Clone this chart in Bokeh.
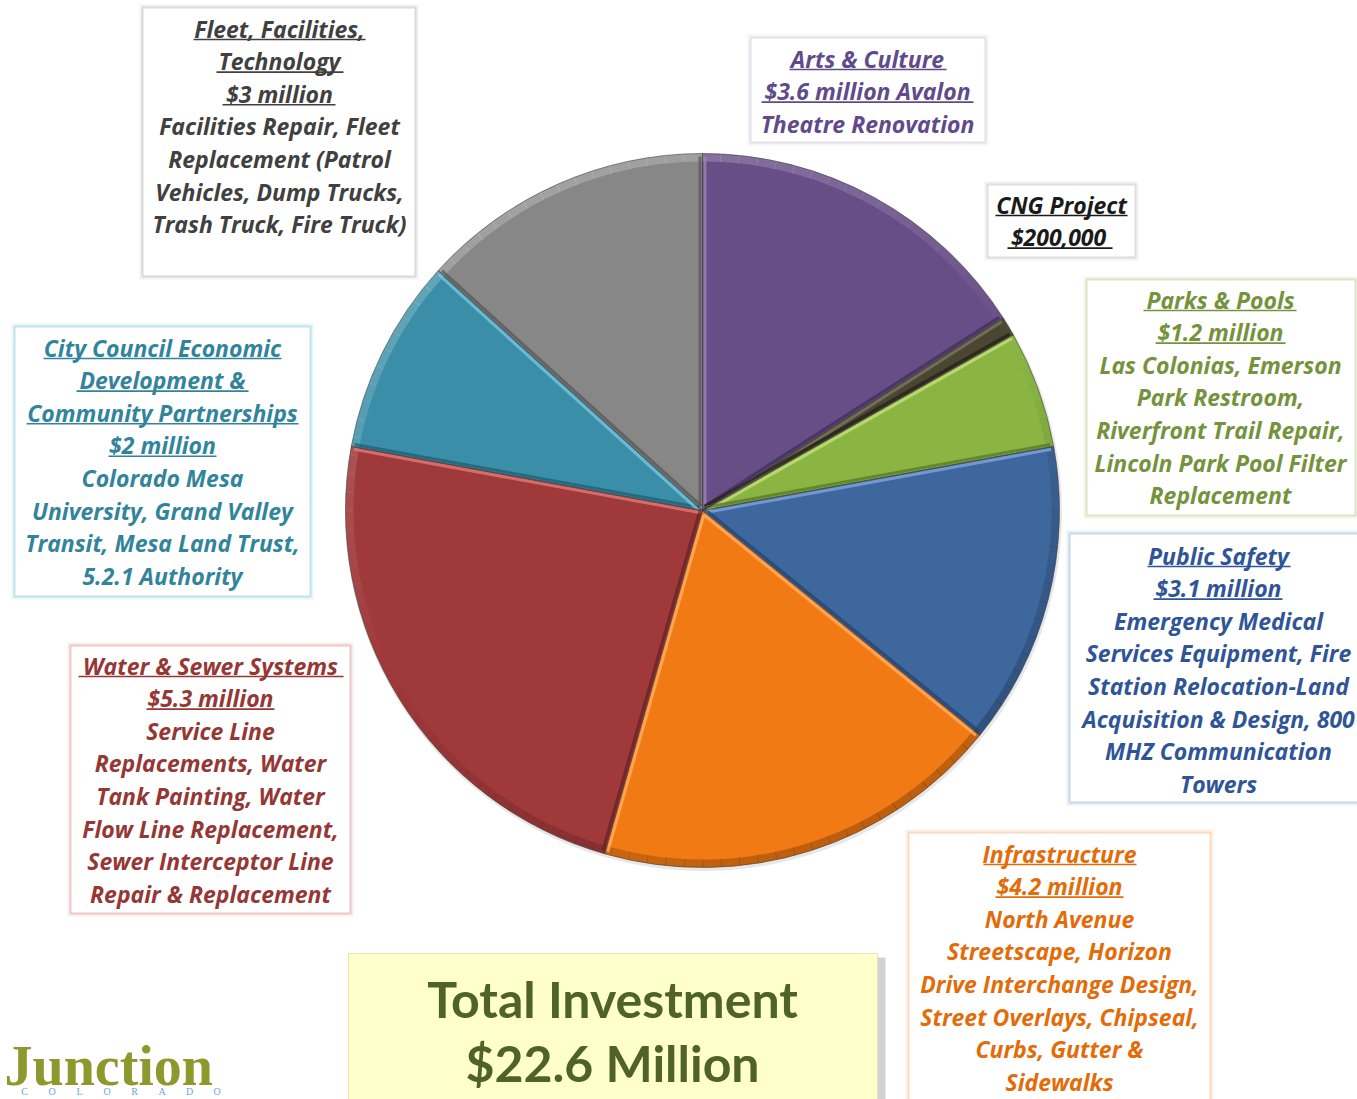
import math
from bokeh.plotting import figure
from bokeh.models import Range1d
from bokeh.embed import file_html
from bokeh.resources import INLINE
from bokeh.core.properties import value

# ---------------- data ----------------
categories = ["Arts & Culture", "CNG Project", "Parks & Pools", "Public Safety",
              "Infrastructure", "Water & Sewer Systems",
              "City Council Economic Development & Community Partnerships",
              "Fleet, Facilities, Technology"]
amounts = [3.6, 0.2, 1.2, 3.1, 4.2, 5.3, 2.0, 3.0]   # $ million
slice_colors = ["#684e87", "#4b4632", "#8ab543", "#3e679d",
                "#f27a14", "#a0393a", "#3a8ea8", "#878787"]
slice_lights = ["#9a86b5", "#7d7760", "#c3e07a", "#7fa6dc",
                "#ffae62", "#e07a78", "#78c4dc", "#bdbdbd"]
slice_darks = ["#44305f", "#25221a", "#5b7a28", "#274571",
               "#a85108", "#6a2223", "#226277", "#5a5a5a"]

fleet_lines = ["Fleet, Facilities,", "Technology", "$3 million", "Facilities Repair, Fleet",
               "Replacement (Patrol", "Vehicles, Dump Trucks,", "Trash Truck, Fire Truck)"]
arts_lines = ["Arts & Culture", "$3.6 million Avalon", "Theatre Renovation"]
cng_lines = ["CNG Project", " $200,000"]
parks_lines = ["Parks & Pools", "$1.2 million", "Las Colonias, Emerson", "Park Restroom,",
               "Riverfront Trail Repair,", "Lincoln Park Pool Filter", "Replacement"]
safety_lines = ["Public Safety", "$3.1 million", "Emergency Medical", "Services Equipment, Fire",
                "Station Relocation-Land", "Acquisition & Design, 800", "MHZ Communication", "Towers"]
infra_lines = ["Infrastructure", "$4.2 million", "North Avenue", "Streetscape, Horizon",
               "Drive Interchange Design,", "Street Overlays, Chipseal,", "Curbs, Gutter &", "Sidewalks"]
water_lines = ["Water & Sewer Systems", "$5.3 million", "Service Line", "Replacements, Water",
               "Tank Painting, Water", "Flow Line Replacement,", "Sewer Interceptor Line",
               "Repair & Replacement"]
council_lines = ["City Council Economic", "Development &", "Community Partnerships", "$2 million",
                 "Colorado Mesa", "University, Grand Valley", "Transit, Mesa Land Trust,",
                 "5.2.1 Authority"]
total_lines = ["Total Investment", "$22.6 Million"]
logo_word = "Junction"
logo_sub = list("COLORADO")

# ---------------- figure ----------------
W, H = 1357, 1099
p = figure(width=W, height=H, x_range=Range1d(0, W), y_range=Range1d(0, H),
           output_backend="svg", toolbar_location=None, min_border=0,
           x_axis_location=None, y_axis_location=None)
p.grid.visible = False
p.outline_line_color = None
p.background_fill_color = "white"
p.border_fill_color = "white"


def Y(y):
    return 1099 - y


FONT = value("Open Sans")

# ---------------- pie ----------------
cx, cy, R = 702, Y(510), 357
total = sum(amounts)
cum = 0.0
starts, ends = [], []
for a in amounts:
    starts.append(math.pi / 2 - 2 * math.pi * cum / total)
    cum += a
    ends.append(math.pi / 2 - 2 * math.pi * cum / total)

p.circle(x=[cx + 1], y=[cy - 2], radius=R + 1.5, fill_color="#cfcfcf", line_color=None, fill_alpha=0.5)
p.wedge(x=cx, y=cy, radius=R, start_angle=starts, end_angle=ends, direction="clock",
        fill_color=slice_colors, line_color=None)

# rim bevel shading (light from upper left)
Lx, Ly = -0.45, 0.89
n_seg = 120
rs, re, rc, ra = [], [], [], []
for k in range(n_seg):
    a0 = 2 * math.pi * k / n_seg
    a1 = 2 * math.pi * (k + 1) / n_seg
    am = (a0 + a1) / 2
    d = math.cos(am) * Lx + math.sin(am) * Ly
    rs.append(a0)
    re.append(a1 + 0.002)
    rc.append("white" if d > 0 else "black")
    ra.append(0.22 * abs(d))
p.annular_wedge(x=cx, y=cy, inner_radius=R - 8, outer_radius=R, start_angle=rs, end_angle=re,
                fill_color=rc, fill_alpha=ra, line_color=None)

# radial edge bevels
ex0, ey0, ex1, ey1, ecol = [], [], [], [], []
for i in range(len(amounts)):
    for ang, sgn in ((starts[i], 1), (ends[i], -1)):
        nx, ny = -math.sin(ang) * sgn, math.cos(ang) * sgn   # outward normal of the slice edge
        d = nx * Lx + ny * Ly
        off = 2.5
        ux, uy = math.cos(ang), math.sin(ang)
        ex0.append(cx - nx * off + ux * 4)
        ey0.append(cy - ny * off + uy * 4)
        ex1.append(cx - nx * off + ux * (R - 3))
        ey1.append(cy - ny * off + uy * (R - 3))
        ecol.append(slice_lights[i] if d > 0 else slice_darks[i])
p.segment(x0=ex0, y0=ey0, x1=ex1, y1=ey1, line_color=ecol, line_width=3, line_alpha=0.8)
p.wedge(x=cx, y=cy, radius=R, start_angle=starts, end_angle=ends, direction="clock",
        fill_color=None, line_color="#3a3a3a", line_alpha=0.55, line_width=1)


# ---------------- label boxes ----------------
def box(left, right, top, bottom, border, fill="white"):
    p.quad(left=[left - 3], right=[right + 3], top=[Y(top - 3)], bottom=[Y(bottom + 3)],
           fill_color=border, fill_alpha=0.35, line_color=None)
    p.quad(left=[left], right=[right], top=[Y(top)], bottom=[Y(bottom)],
           fill_color=fill, line_color=border, line_width=2)


def label(lines, xc, y0, color, under, step=32.6, size="23px", style="bold italic"):
    y0 = y0 - 1
    ys = [Y(y0 + i * step) for i in range(len(lines))]
    p.text(x=[xc] * len(lines), y=ys, text=lines, text_align="center", text_baseline="middle",
           text_color=color, text_font=FONT, text_font_size=size, text_font_style=style)
    x0s, x1s, uy = [], [], []
    for i, (a, b) in enumerate(under):
        x0s.append(a)
        x1s.append(b)
        uy.append(Y(y0 + i * step + 11))
    if x0s:
        p.segment(x0=x0s, y0=uy, x1=x1s, y1=uy, line_color=color, line_width=1.6)


box(142, 415, 7, 276, "#d9d9d9")
label(fleet_lines, 279, 29, "#404040", [(193, 365), (216, 343), (222, 335)])

box(750, 985, 37, 142, "#e3e0e8")
label(arts_lines, 867, 59, "#5f4b8b", [(789, 946), (761, 973)])

box(987, 1135, 184, 257, "#dedede")
label(cng_lines, 1061, 205, "#1a1a1a", [(995, 1127), (1007, 1112)])

box(1086, 1355, 279, 515, "#dbe6c6")
label(parks_lines, 1220, 300, "#76923c", [(1143, 1296), (1155, 1285)])

box(1069, 1365, 533, 802, "#c9d7ea")
label(safety_lines, 1218, 556, "#2f5597", [(1147, 1290), (1153, 1282)])

box(908, 1210, 832, 1120, "#fbd9c0")
label(infra_lines, 1059, 854, "#e36c09", [(983, 1136), (995, 1123)])

box(70, 350, 645, 913, "#ebc9c8")
label(water_lines, 210, 666, "#953735", [(78, 343), (146, 274)])

box(14, 310, 326, 596, "#c3e3ec")
label(council_lines, 162, 348, "#31849b", [(43, 281), (76, 248), (26, 298), (108, 216)])

# total investment box with shadow
p.quad(left=[354], right=[885], top=[Y(957)], bottom=[Y(1120)], fill_color="#9a9a9a",
       fill_alpha=0.45, line_color=None)
p.quad(left=[348], right=[877], top=[Y(953)], bottom=[Y(1120)], fill_color="#ffffcc",
       line_color="#e6e6b0", line_width=1)
p.text(x=[612, 612], y=[Y(998), Y(1062)], text=total_lines, text_align="center",
       text_baseline="middle", text_color="#4f6228", text_font=value("Lato"),
       text_font_size="50px", text_font_style="bold")

# logo
p.text(x=[4], y=[Y(1065)], text=[logo_word], text_align="left", text_baseline="middle",
       text_color="#8a9a2c", text_font=value("Liberation Serif"), text_font_size="56px",
       text_font_style="bold")
p.text(x=[24 + 27.5 * i for i in range(len(logo_sub))], y=[Y(1091)] * len(logo_sub),
       text=logo_sub, text_align="center", text_baseline="middle", text_color="#6fa6d0",
       text_font=value("Liberation Serif"), text_font_size="10px")

open("out.html", "w").write(file_html(p, INLINE))
